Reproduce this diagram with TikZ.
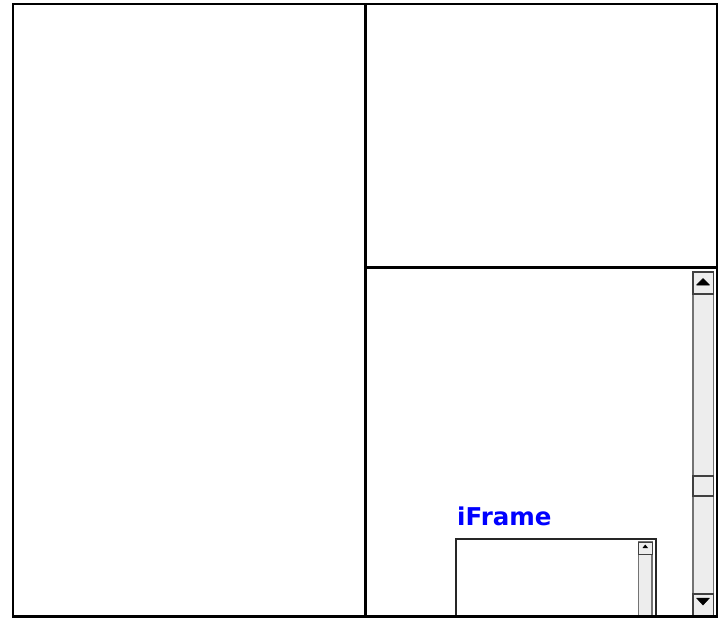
\documentclass[tikz,border=0pt]{standalone}
\usepackage{fontspec}
\newfontfamily\labelfont{DejaVu Sans}
\begin{document}
\begin{tikzpicture}[x=1pt,y=-1pt,
  frameline/.style={draw=black,line width=2.8pt},
  track/.style={fill=black!7,draw=black!55,line width=1.6pt},
  arrowbox/.style={fill=black!7,draw=black!75,line width=1.3pt},
  thumbbox/.style={fill=black!7,draw=black!75,line width=1.3pt},
  tri/.style={fill=black,draw=black,line width=0.5pt,line join=round}]
\useasboundingbox (0,0) rectangle (722,620);
% iFrame (clipped at bottom by frame)
\begin{scope}
\clip (0,0) rectangle (722,616);
\draw[draw=black!85,line width=1.5pt,fill=white] (456,539) rectangle (656,640);
\draw[track,line width=1.2pt] (638.5,542) rectangle (652,640);
\draw[arrowbox,line width=1pt] (638.5,542) rectangle (652,554);
\fill (642.5,548) -- (645.2,544.5) -- (648,548) -- cycle;
\end{scope}
\node[anchor=south west,inner sep=0pt,text=blue,font=\labelfont\bfseries\fontsize{24.5}{26}\selectfont] (lbl) at (457,526.5) {iFrame};
% main scrollbar
\draw[track] (693,272) rectangle (713.5,616);
\draw[arrowbox] (693,272) rectangle (713.5,294);
\draw[thumbbox] (693,476) rectangle (713.5,496);
\draw[arrowbox] (693,594) rectangle (713.5,616);
\fill[tri] (696.5,285) -- (703,278.5) -- (709.5,285) -- cycle;
\fill[tri] (696.5,598) -- (703,605) -- (709.5,598) -- cycle;
% frameset
\coordinate (tl) at (13,4);
\coordinate (br) at (717,616.5);
\draw[frameline] (365.5,4) -- (365.5,616.5);
\draw[frameline] (365.5,267.5) -- (717,267.5);
\draw[frameline] (tl) rectangle (br);
\end{tikzpicture}
\end{document}
